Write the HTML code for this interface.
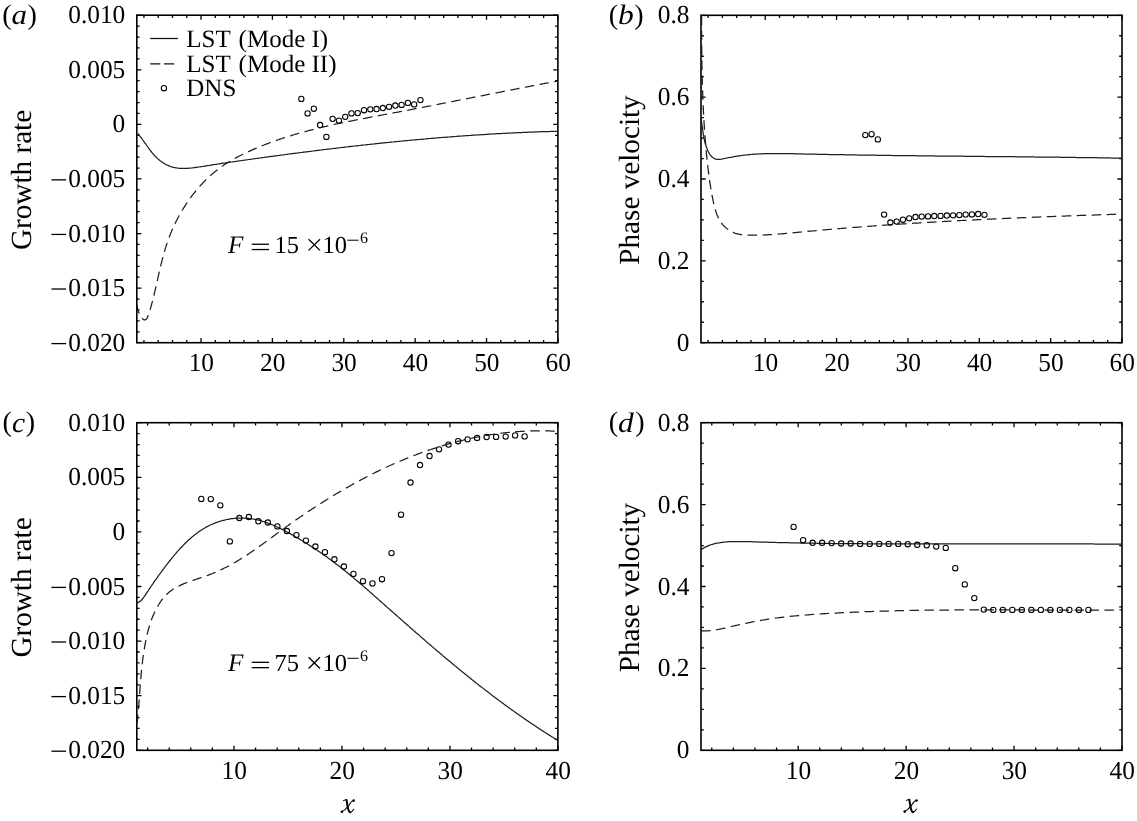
<!DOCTYPE html><html><head><meta charset="utf-8"><style>html,body{margin:0;padding:0;background:#fff;width:1137px;height:821px;overflow:hidden}svg{display:block}text{font-family:"Liberation Serif",serif;text-rendering:geometricPrecision}svg{will-change:transform}</style></head><body><svg width="1137" height="821" viewBox="0 0 1137 821" font-family="Liberation Serif">
<rect width="100%" height="100%" fill="#fff"/>
<path d="M143.94 342.7V339.9M143.94 15.2V18M158.21 342.7V339.9M158.21 15.2V18M172.49 342.7V339.9M172.49 15.2V18M186.76 342.7V339.9M186.76 15.2V18M201.04 342.7V338.1M201.04 15.2V19.8M215.31 342.7V339.9M215.31 15.2V18M229.58 342.7V339.9M229.58 15.2V18M243.86 342.7V339.9M243.86 15.2V18M258.13 342.7V339.9M258.13 15.2V18M272.41 342.7V338.1M272.41 15.2V19.8M286.68 342.7V339.9M286.68 15.2V18M300.96 342.7V339.9M300.96 15.2V18M315.23 342.7V339.9M315.23 15.2V18M329.51 342.7V339.9M329.51 15.2V18M343.78 342.7V338.1M343.78 15.2V19.8M358.06 342.7V339.9M358.06 15.2V18M372.33 342.7V339.9M372.33 15.2V18M386.61 342.7V339.9M386.61 15.2V18M400.88 342.7V339.9M400.88 15.2V18M415.15 342.7V338.1M415.15 15.2V19.8M429.43 342.7V339.9M429.43 15.2V18M443.7 342.7V339.9M443.7 15.2V18M457.98 342.7V339.9M457.98 15.2V18M472.25 342.7V339.9M472.25 15.2V18M486.53 342.7V338.1M486.53 15.2V19.8M500.8 342.7V339.9M500.8 15.2V18M515.08 342.7V339.9M515.08 15.2V18M529.35 342.7V339.9M529.35 15.2V18M543.63 342.7V339.9M543.63 15.2V18M557.9 342.7V338.1M557.9 15.2V19.8M136.8 342.7H141.4M557.9 342.7H553.3M136.8 331.78H139.6M557.9 331.78H555.1M136.8 320.87H139.6M557.9 320.87H555.1M136.8 309.95H139.6M557.9 309.95H555.1M136.8 299.03H139.6M557.9 299.03H555.1M136.8 288.12H141.4M557.9 288.12H553.3M136.8 277.2H139.6M557.9 277.2H555.1M136.8 266.28H139.6M557.9 266.28H555.1M136.8 255.37H139.6M557.9 255.37H555.1M136.8 244.45H139.6M557.9 244.45H555.1M136.8 233.53H141.4M557.9 233.53H553.3M136.8 222.62H139.6M557.9 222.62H555.1M136.8 211.7H139.6M557.9 211.7H555.1M136.8 200.78H139.6M557.9 200.78H555.1M136.8 189.87H139.6M557.9 189.87H555.1M136.8 178.95H141.4M557.9 178.95H553.3M136.8 168.03H139.6M557.9 168.03H555.1M136.8 157.12H139.6M557.9 157.12H555.1M136.8 146.2H139.6M557.9 146.2H555.1M136.8 135.28H139.6M557.9 135.28H555.1M136.8 124.37H141.4M557.9 124.37H553.3M136.8 113.45H139.6M557.9 113.45H555.1M136.8 102.53H139.6M557.9 102.53H555.1M136.8 91.62H139.6M557.9 91.62H555.1M136.8 80.7H139.6M557.9 80.7H555.1M136.8 69.78H141.4M557.9 69.78H553.3M136.8 58.87H139.6M557.9 58.87H555.1M136.8 47.95H139.6M557.9 47.95H555.1M136.8 37.03H139.6M557.9 37.03H555.1M136.8 26.12H139.6M557.9 26.12H555.1M136.8 15.2H141.4M557.9 15.2H553.3" stroke="#000" stroke-width="1.3" fill="none"/>
<rect x="136.8" y="15.2" width="421.1" height="327.5" fill="none" stroke="#000" stroke-width="1.6"/>
<path d="M708.14 342.7V339.9M708.14 15.3V18.1M722.41 342.7V339.9M722.41 15.3V18.1M736.68 342.7V339.9M736.68 15.3V18.1M750.95 342.7V339.9M750.95 15.3V18.1M765.22 342.7V338.1M765.22 15.3V19.9M779.49 342.7V339.9M779.49 15.3V18.1M793.76 342.7V339.9M793.76 15.3V18.1M808.03 342.7V339.9M808.03 15.3V18.1M822.31 342.7V339.9M822.31 15.3V18.1M836.58 342.7V338.1M836.58 15.3V19.9M850.85 342.7V339.9M850.85 15.3V18.1M865.12 342.7V339.9M865.12 15.3V18.1M879.39 342.7V339.9M879.39 15.3V18.1M893.66 342.7V339.9M893.66 15.3V18.1M907.93 342.7V338.1M907.93 15.3V19.9M922.2 342.7V339.9M922.2 15.3V18.1M936.47 342.7V339.9M936.47 15.3V18.1M950.75 342.7V339.9M950.75 15.3V18.1M965.02 342.7V339.9M965.02 15.3V18.1M979.29 342.7V338.1M979.29 15.3V19.9M993.56 342.7V339.9M993.56 15.3V18.1M1007.83 342.7V339.9M1007.83 15.3V18.1M1022.1 342.7V339.9M1022.1 15.3V18.1M1036.37 342.7V339.9M1036.37 15.3V18.1M1050.64 342.7V338.1M1050.64 15.3V19.9M1064.92 342.7V339.9M1064.92 15.3V18.1M1079.19 342.7V339.9M1079.19 15.3V18.1M1093.46 342.7V339.9M1093.46 15.3V18.1M1107.73 342.7V339.9M1107.73 15.3V18.1M1122 342.7V338.1M1122 15.3V19.9M701 342.7H705.6M1122 342.7H1117.4M701 322.24H703.8M1122 322.24H1119.2M701 301.77H703.8M1122 301.77H1119.2M701 281.31H703.8M1122 281.31H1119.2M701 260.85H705.6M1122 260.85H1117.4M701 240.39H703.8M1122 240.39H1119.2M701 219.92H703.8M1122 219.92H1119.2M701 199.46H703.8M1122 199.46H1119.2M701 179H705.6M1122 179H1117.4M701 158.54H703.8M1122 158.54H1119.2M701 138.07H703.8M1122 138.07H1119.2M701 117.61H703.8M1122 117.61H1119.2M701 97.15H705.6M1122 97.15H1117.4M701 76.69H703.8M1122 76.69H1119.2M701 56.23H703.8M1122 56.23H1119.2M701 35.76H703.8M1122 35.76H1119.2M701 15.3H705.6M1122 15.3H1117.4" stroke="#000" stroke-width="1.3" fill="none"/>
<rect x="701" y="15.3" width="421" height="327.4" fill="none" stroke="#000" stroke-width="1.6"/>
<path d="M147.6 750.3V747.5M147.6 422.7V425.5M169.19 750.3V747.5M169.19 422.7V425.5M190.79 750.3V747.5M190.79 422.7V425.5M212.38 750.3V747.5M212.38 422.7V425.5M233.98 750.3V745.7M233.98 422.7V427.3M255.57 750.3V747.5M255.57 422.7V425.5M277.17 750.3V747.5M277.17 422.7V425.5M298.76 750.3V747.5M298.76 422.7V425.5M320.36 750.3V747.5M320.36 422.7V425.5M341.95 750.3V745.7M341.95 422.7V427.3M363.55 750.3V747.5M363.55 422.7V425.5M385.14 750.3V747.5M385.14 422.7V425.5M406.74 750.3V747.5M406.74 422.7V425.5M428.33 750.3V747.5M428.33 422.7V425.5M449.93 750.3V745.7M449.93 422.7V427.3M471.52 750.3V747.5M471.52 422.7V425.5M493.12 750.3V747.5M493.12 422.7V425.5M514.71 750.3V747.5M514.71 422.7V425.5M536.31 750.3V747.5M536.31 422.7V425.5M557.9 750.3V745.7M557.9 422.7V427.3M136.8 750.3H141.4M557.9 750.3H553.3M136.8 739.38H139.6M557.9 739.38H555.1M136.8 728.46H139.6M557.9 728.46H555.1M136.8 717.54H139.6M557.9 717.54H555.1M136.8 706.62H139.6M557.9 706.62H555.1M136.8 695.7H141.4M557.9 695.7H553.3M136.8 684.78H139.6M557.9 684.78H555.1M136.8 673.86H139.6M557.9 673.86H555.1M136.8 662.94H139.6M557.9 662.94H555.1M136.8 652.02H139.6M557.9 652.02H555.1M136.8 641.1H141.4M557.9 641.1H553.3M136.8 630.18H139.6M557.9 630.18H555.1M136.8 619.26H139.6M557.9 619.26H555.1M136.8 608.34H139.6M557.9 608.34H555.1M136.8 597.42H139.6M557.9 597.42H555.1M136.8 586.5H141.4M557.9 586.5H553.3M136.8 575.58H139.6M557.9 575.58H555.1M136.8 564.66H139.6M557.9 564.66H555.1M136.8 553.74H139.6M557.9 553.74H555.1M136.8 542.82H139.6M557.9 542.82H555.1M136.8 531.9H141.4M557.9 531.9H553.3M136.8 520.98H139.6M557.9 520.98H555.1M136.8 510.06H139.6M557.9 510.06H555.1M136.8 499.14H139.6M557.9 499.14H555.1M136.8 488.22H139.6M557.9 488.22H555.1M136.8 477.3H141.4M557.9 477.3H553.3M136.8 466.38H139.6M557.9 466.38H555.1M136.8 455.46H139.6M557.9 455.46H555.1M136.8 444.54H139.6M557.9 444.54H555.1M136.8 433.62H139.6M557.9 433.62H555.1M136.8 422.7H141.4M557.9 422.7H553.3" stroke="#000" stroke-width="1.3" fill="none"/>
<rect x="136.8" y="422.7" width="421.1" height="327.6" fill="none" stroke="#000" stroke-width="1.6"/>
<path d="M711.79 750.3V747.5M711.79 422.7V425.5M733.38 750.3V747.5M733.38 422.7V425.5M754.97 750.3V747.5M754.97 422.7V425.5M776.56 750.3V747.5M776.56 422.7V425.5M798.15 750.3V745.7M798.15 422.7V427.3M819.74 750.3V747.5M819.74 422.7V425.5M841.33 750.3V747.5M841.33 422.7V425.5M862.92 750.3V747.5M862.92 422.7V425.5M884.51 750.3V747.5M884.51 422.7V425.5M906.1 750.3V745.7M906.1 422.7V427.3M927.69 750.3V747.5M927.69 422.7V425.5M949.28 750.3V747.5M949.28 422.7V425.5M970.87 750.3V747.5M970.87 422.7V425.5M992.46 750.3V747.5M992.46 422.7V425.5M1014.05 750.3V745.7M1014.05 422.7V427.3M1035.64 750.3V747.5M1035.64 422.7V425.5M1057.23 750.3V747.5M1057.23 422.7V425.5M1078.82 750.3V747.5M1078.82 422.7V425.5M1100.41 750.3V747.5M1100.41 422.7V425.5M1122 750.3V745.7M1122 422.7V427.3M701 750.3H705.6M1122 750.3H1117.4M701 729.82H703.8M1122 729.82H1119.2M701 709.35H703.8M1122 709.35H1119.2M701 688.88H703.8M1122 688.88H1119.2M701 668.4H705.6M1122 668.4H1117.4M701 647.92H703.8M1122 647.92H1119.2M701 627.45H703.8M1122 627.45H1119.2M701 606.97H703.8M1122 606.97H1119.2M701 586.5H705.6M1122 586.5H1117.4M701 566.02H703.8M1122 566.02H1119.2M701 545.55H703.8M1122 545.55H1119.2M701 525.08H703.8M1122 525.08H1119.2M701 504.6H705.6M1122 504.6H1117.4M701 484.12H703.8M1122 484.12H1119.2M701 463.65H703.8M1122 463.65H1119.2M701 443.18H703.8M1122 443.18H1119.2M701 422.7H705.6M1122 422.7H1117.4" stroke="#000" stroke-width="1.3" fill="none"/>
<rect x="701" y="422.7" width="421" height="327.6" fill="none" stroke="#000" stroke-width="1.6"/>
<text transform="translate(125.3 23.2) scale(0.976 1)" font-size="26" text-anchor="end">0.010</text>
<text transform="translate(125.3 77.78) scale(0.976 1)" font-size="26" text-anchor="end">0.005</text>
<text transform="translate(125.3 132.37) scale(0.976 1)" font-size="26" text-anchor="end">0</text>
<text transform="translate(125.3 186.95) scale(0.976 1)" font-size="26" text-anchor="end">0.005</text>
<rect x="51.47" y="179.2" width="14.6" height="1.3" fill="#000"/>
<text transform="translate(125.3 241.53) scale(0.976 1)" font-size="26" text-anchor="end">0.010</text>
<rect x="51.47" y="233.78" width="14.6" height="1.3" fill="#000"/>
<text transform="translate(125.3 296.12) scale(0.976 1)" font-size="26" text-anchor="end">0.015</text>
<rect x="51.47" y="288.37" width="14.6" height="1.3" fill="#000"/>
<text transform="translate(125.3 350.7) scale(0.976 1)" font-size="26" text-anchor="end">0.020</text>
<rect x="51.47" y="342.95" width="14.6" height="1.3" fill="#000"/>
<text transform="translate(125.3 430.7) scale(0.976 1)" font-size="26" text-anchor="end">0.010</text>
<text transform="translate(125.3 485.3) scale(0.976 1)" font-size="26" text-anchor="end">0.005</text>
<text transform="translate(125.3 539.9) scale(0.976 1)" font-size="26" text-anchor="end">0</text>
<text transform="translate(125.3 594.5) scale(0.976 1)" font-size="26" text-anchor="end">0.005</text>
<rect x="51.47" y="586.75" width="14.6" height="1.3" fill="#000"/>
<text transform="translate(125.3 649.1) scale(0.976 1)" font-size="26" text-anchor="end">0.010</text>
<rect x="51.47" y="641.35" width="14.6" height="1.3" fill="#000"/>
<text transform="translate(125.3 703.7) scale(0.976 1)" font-size="26" text-anchor="end">0.015</text>
<rect x="51.47" y="695.95" width="14.6" height="1.3" fill="#000"/>
<text transform="translate(125.3 758.3) scale(0.976 1)" font-size="26" text-anchor="end">0.020</text>
<rect x="51.47" y="750.55" width="14.6" height="1.3" fill="#000"/>
<text transform="translate(689.5 23.3) scale(0.976 1)" font-size="26" text-anchor="end">0.8</text>
<text transform="translate(689.5 105.15) scale(0.976 1)" font-size="26" text-anchor="end">0.6</text>
<text transform="translate(689.5 187) scale(0.976 1)" font-size="26" text-anchor="end">0.4</text>
<text transform="translate(689.5 268.85) scale(0.976 1)" font-size="26" text-anchor="end">0.2</text>
<text transform="translate(689.5 350.7) scale(0.976 1)" font-size="26" text-anchor="end">0</text>
<text transform="translate(689.5 430.7) scale(0.976 1)" font-size="26" text-anchor="end">0.8</text>
<text transform="translate(689.5 512.6) scale(0.976 1)" font-size="26" text-anchor="end">0.6</text>
<text transform="translate(689.5 594.5) scale(0.976 1)" font-size="26" text-anchor="end">0.4</text>
<text transform="translate(689.5 676.4) scale(0.976 1)" font-size="26" text-anchor="end">0.2</text>
<text transform="translate(689.5 758.3) scale(0.976 1)" font-size="26" text-anchor="end">0</text>
<text transform="translate(201.34 371.1) scale(0.976 1)" font-size="26" text-anchor="middle">10</text>
<text transform="translate(272.71 371.1) scale(0.976 1)" font-size="26" text-anchor="middle">20</text>
<text transform="translate(344.08 371.1) scale(0.976 1)" font-size="26" text-anchor="middle">30</text>
<text transform="translate(415.45 371.1) scale(0.976 1)" font-size="26" text-anchor="middle">40</text>
<text transform="translate(486.83 371.1) scale(0.976 1)" font-size="26" text-anchor="middle">50</text>
<text transform="translate(558.2 371.1) scale(0.976 1)" font-size="26" text-anchor="middle">60</text>
<text transform="translate(765.52 371.1) scale(0.976 1)" font-size="26" text-anchor="middle">10</text>
<text transform="translate(836.88 371.1) scale(0.976 1)" font-size="26" text-anchor="middle">20</text>
<text transform="translate(908.23 371.1) scale(0.976 1)" font-size="26" text-anchor="middle">30</text>
<text transform="translate(979.59 371.1) scale(0.976 1)" font-size="26" text-anchor="middle">40</text>
<text transform="translate(1050.94 371.1) scale(0.976 1)" font-size="26" text-anchor="middle">50</text>
<text transform="translate(1122.3 371.1) scale(0.976 1)" font-size="26" text-anchor="middle">60</text>
<text transform="translate(234.28 778.7) scale(0.976 1)" font-size="26" text-anchor="middle">10</text>
<text transform="translate(342.25 778.7) scale(0.976 1)" font-size="26" text-anchor="middle">20</text>
<text transform="translate(450.23 778.7) scale(0.976 1)" font-size="26" text-anchor="middle">30</text>
<text transform="translate(558.2 778.7) scale(0.976 1)" font-size="26" text-anchor="middle">40</text>
<text transform="translate(798.45 778.7) scale(0.976 1)" font-size="26" text-anchor="middle">10</text>
<text transform="translate(906.4 778.7) scale(0.976 1)" font-size="26" text-anchor="middle">20</text>
<text transform="translate(1014.35 778.7) scale(0.976 1)" font-size="26" text-anchor="middle">30</text>
<text transform="translate(1122.3 778.7) scale(0.976 1)" font-size="26" text-anchor="middle">40</text>
<text transform="translate(31.2 179.95) rotate(-90)" font-size="29.2" text-anchor="middle">Growth rate</text>
<text transform="translate(31.2 587.5) rotate(-90)" font-size="29.2" text-anchor="middle">Growth rate</text>
<text transform="translate(638.9 180) rotate(-90)" font-size="29.2" text-anchor="middle">Phase velocity</text>
<text transform="translate(638.9 587.5) rotate(-90)" font-size="29.2" text-anchor="middle">Phase velocity</text>
<g transform="translate(340.6 812.9)" fill="none" stroke="#000" stroke-linecap="round"><path d="M1.1 -1.2C2.3 -1.6 3.2 -2.4 4.1 -3.1S6.2 -5.4 7.2 -6.2S8.6 -8.4 9.4 -9.3S10.5 -11 11.2 -11.5S12.6 -12.3 13.3 -12.3" stroke-width="1.05"/><path d="M5.9 -13C6.3 -11 6.9 -6 7.6 -3.8C8.1 -2 8.7 -0.6 9.6 -0.6" stroke-width="2.0"/><path d="M9.6 -0.6C11 -0.6 12.2 -2 13.1 -3.6" stroke-width="1.05"/><path d="M2.8 -12.3C3.8 -12.9 5 -13.2 6.1 -13.1" stroke-width="1.0"/><circle cx="1.3" cy="-1.1" r="1.3" fill="#000" stroke="none"/><circle cx="13.1" cy="-12.3" r="1.25" fill="#000" stroke="none"/></g>
<g transform="translate(903.4 812.7)" fill="none" stroke="#000" stroke-linecap="round"><path d="M1.1 -1.2C2.3 -1.6 3.2 -2.4 4.1 -3.1S6.2 -5.4 7.2 -6.2S8.6 -8.4 9.4 -9.3S10.5 -11 11.2 -11.5S12.6 -12.3 13.3 -12.3" stroke-width="1.05"/><path d="M5.9 -13C6.3 -11 6.9 -6 7.6 -3.8C8.1 -2 8.7 -0.6 9.6 -0.6" stroke-width="2.0"/><path d="M9.6 -0.6C11 -0.6 12.2 -2 13.1 -3.6" stroke-width="1.05"/><path d="M2.8 -12.3C3.8 -12.9 5 -13.2 6.1 -13.1" stroke-width="1.0"/><circle cx="1.3" cy="-1.1" r="1.3" fill="#000" stroke="none"/><circle cx="13.1" cy="-12.3" r="1.25" fill="#000" stroke="none"/></g>
<text x="2.2" y="23.9" font-size="28.2" text-anchor="start">(</text>
<text transform="translate(11.48 24.4) scale(1.1 1)" font-size="28.2" text-anchor="start" font-style="italic">a</text>
<text x="27.5" y="23.9" font-size="28.2" text-anchor="start">)</text>
<text x="608.8" y="23.9" font-size="28.2" text-anchor="start">(</text>
<text transform="translate(618.1 24.4) scale(1.12 1)" font-size="28.2" text-anchor="start" font-style="italic">b</text>
<text x="634.2" y="23.9" font-size="28.2" text-anchor="start">)</text>
<text x="2.4" y="431.4" font-size="28.2" text-anchor="start">(</text>
<text transform="translate(12 432.1) scale(1.05 1)" font-size="28.2" text-anchor="start" font-style="italic">c</text>
<text x="25.8" y="431.4" font-size="28.2" text-anchor="start">)</text>
<text x="608.8" y="431.4" font-size="28.2" text-anchor="start">(</text>
<text transform="translate(618.1 432.1) scale(1.11 1)" font-size="28.2" text-anchor="start" font-style="italic">d</text>
<text x="635.3" y="431.4" font-size="28.2" text-anchor="start">)</text>
<path d="M150.2 38.5H177.9" stroke="#111" stroke-width="1.25"/>
<path d="M150.2 63.8H160.3M164 63.8H174.2" stroke="#111" stroke-width="1.25"/>
<g fill="none" stroke="#000" stroke-width="1.05"><circle cx="163.9" cy="88.2" r="2.65"/></g>
<text x="186.3" y="46.8" font-size="25" text-anchor="start">LST</text>
<text x="238.6" y="46.8" font-size="25" text-anchor="start">(Mode I)</text>
<text x="186.3" y="72.4" font-size="25" text-anchor="start">LST</text>
<text x="238.6" y="72.4" font-size="25" text-anchor="start">(Mode II)</text>
<text x="186.3" y="95.7" font-size="25" text-anchor="start">DNS</text>
<text x="227.9" y="253.1" font-size="25.2" text-anchor="start" font-style="italic">F</text>
<rect x="251.7" y="243.6" width="17.3" height="1.3"/>
<rect x="251.7" y="248.9" width="17.3" height="1.3"/>
<text x="299.1" y="253.1" font-size="24.5" text-anchor="end">15</text>
<path d="M308.6 239.2L320 250.4M320 239.2L308.6 250.4" stroke="#000" stroke-width="1.3"/>
<text x="322.6" y="253.1" font-size="24.5" text-anchor="start">10</text>
<rect x="347.4" y="239.7" width="11.2" height="1.0"/>
<text x="360" y="242.5" font-size="16" text-anchor="start">6</text>
<text x="227.9" y="671.2" font-size="25.2" text-anchor="start" font-style="italic">F</text>
<rect x="251.7" y="661.7" width="17.3" height="1.3"/>
<rect x="251.7" y="667" width="17.3" height="1.3"/>
<text x="299.1" y="671.2" font-size="24.5" text-anchor="end">75</text>
<path d="M308.6 657.3L320 668.5M320 657.3L308.6 668.5" stroke="#000" stroke-width="1.3"/>
<text x="322.6" y="671.2" font-size="24.5" text-anchor="start">10</text>
<rect x="347.4" y="657.8" width="11.2" height="1.0"/>
<text x="360" y="660.6" font-size="16" text-anchor="start">6</text>
<path d="M137.7 133.5 138.5 134.3 139.2 135.2 139.9 136.1 140.7 137.1 141.4 138.0 142.1 139.0 142.8 140.0 143.5 141.0 144.2 142.0 144.9 143.0 145.7 144.0 146.4 145.0 147.1 146.0 147.8 147.0 148.5 148.0 149.2 149.0 150.0 150.0 150.7 151.0 151.5 152.0 152.2 152.9 153.0 153.8 153.8 154.7 154.6 155.6 155.4 156.5 156.3 157.3 157.1 158.1 158.0 158.9 158.9 159.7 159.7 160.4 160.7 161.1 161.6 161.8 162.5 162.4 163.5 163.0 164.4 163.6 165.4 164.2 166.4 164.7 167.4 165.2 168.4 165.6 169.5 166.1 170.5 166.5 171.6 166.8 172.6 167.1 173.7 167.4 174.8 167.6 176.0 167.8 177.1 168.0 178.2 168.2 179.4 168.3 180.5 168.3 181.7 168.4 182.9 168.4 184.1 168.4 185.3 168.4 186.5 168.4 187.7 168.3 188.9 168.2 190.1 168.1 191.4 168.0 192.6 167.9 193.8 167.7 195.0 167.6 196.3 167.4 197.5 167.2 198.8 167.0 200.0 166.9 201.2 166.7 202.5 166.5 203.7 166.3 204.9 166.1 206.2 165.9 207.4 165.7 208.6 165.5 209.8 165.3 211.0 165.1 212.3 164.9 213.5 164.7 214.7 164.5 215.9 164.3 217.1 164.1 218.3 164.0 219.5 163.8 220.6 163.6 221.8 163.4 223.0 163.2 224.2 163.1 225.4 162.9 226.6 162.7 227.8 162.5 228.9 162.4 230.1 162.2 231.3 162.0 232.5 161.9 233.7 161.7 234.8 161.5 236.0 161.4 237.2 161.2 238.4 161.0 239.5 160.8 240.7 160.7 241.9 160.5 243.1 160.3 244.3 160.2 245.4 160.0 246.6 159.8 247.8 159.7 249.0 159.5 250.2 159.4 251.3 159.2 252.5 159.0 253.7 158.9 254.9 158.7 256.1 158.5 257.2 158.4 258.4 158.2 259.6 158.0 260.8 157.9 262.0 157.7 263.2 157.5 264.3 157.4 265.5 157.2 266.7 157.1 267.9 156.9 269.1 156.7 270.3 156.6 271.4 156.4 272.6 156.3 273.8 156.1 275.0 155.9 276.2 155.8 277.4 155.6 278.5 155.5 279.7 155.3 280.9 155.1 282.1 155.0 283.3 154.8 284.5 154.7 285.6 154.5 286.8 154.4 288.0 154.2 289.2 154.0 290.4 153.9 291.6 153.7 292.8 153.6 293.9 153.4 295.1 153.3 296.3 153.1 297.5 153.0 298.7 152.8 299.9 152.7 301.1 152.5 302.2 152.4 303.4 152.2 304.6 152.1 305.8 151.9 307.0 151.8 308.2 151.6 309.4 151.5 310.6 151.3 311.7 151.2 312.9 151.0 314.1 150.9 315.3 150.7 316.5 150.6 317.7 150.4 318.9 150.3 320.1 150.1 321.3 150.0 322.4 149.8 323.6 149.7 324.8 149.5 326.0 149.4 327.2 149.2 328.4 149.1 329.6 149.0 330.8 148.8 332.0 148.7 333.2 148.5 334.3 148.4 335.5 148.3 336.7 148.1 337.9 148.0 339.1 147.8 340.3 147.7 341.5 147.5 342.7 147.4 343.9 147.3 345.1 147.1 346.3 147.0 347.4 146.9 348.6 146.7 349.8 146.6 351.0 146.4 352.2 146.3 353.4 146.2 354.6 146.0 355.8 145.9 357.0 145.8 358.2 145.6 359.4 145.5 360.6 145.4 361.7 145.2 362.9 145.1 364.1 145.0 365.3 144.9 366.5 144.7 367.7 144.6 368.9 144.5 370.1 144.3 371.3 144.2 372.5 144.1 373.7 144.0 374.9 143.8 376.1 143.7 377.3 143.6 378.4 143.4 379.6 143.3 380.8 143.2 382.0 143.1 383.2 142.9 384.4 142.8 385.6 142.7 386.8 142.6 388.0 142.5 389.2 142.3 390.4 142.2 391.6 142.1 392.8 142.0 394.0 141.9 395.2 141.7 396.4 141.6 397.6 141.5 398.7 141.4 399.9 141.3 401.1 141.2 402.3 141.0 403.5 140.9 404.7 140.8 405.9 140.7 407.1 140.6 408.3 140.5 409.5 140.4 410.7 140.2 411.9 140.1 413.1 140.0 414.3 139.9 415.5 139.8 416.7 139.7 417.9 139.6 419.1 139.5 420.3 139.4 421.5 139.3 422.7 139.2 423.8 139.1 425.0 139.0 426.2 138.8 427.4 138.7 428.6 138.6 429.8 138.5 431.0 138.4 432.2 138.3 433.4 138.2 434.6 138.1 435.8 138.0 437.0 137.9 438.2 137.8 439.4 137.7 440.6 137.6 441.8 137.5 443.0 137.4 444.2 137.3 445.4 137.3 446.6 137.2 447.8 137.1 449.0 137.0 450.2 136.9 451.4 136.8 452.6 136.7 453.8 136.6 455.0 136.5 456.1 136.4 457.3 136.3 458.5 136.2 459.7 136.2 460.9 136.1 462.1 136.0 463.3 135.9 464.5 135.8 465.7 135.7 466.9 135.6 468.1 135.6 469.3 135.5 470.5 135.4 471.7 135.3 472.9 135.2 474.1 135.1 475.3 135.1 476.5 135.0 477.7 134.9 478.9 134.8 480.1 134.8 481.3 134.7 482.5 134.6 483.7 134.5 484.9 134.5 486.1 134.4 487.3 134.3 488.5 134.2 489.7 134.2 490.9 134.1 492.1 134.0 493.3 133.9 494.4 133.9 495.6 133.8 496.8 133.7 498.0 133.7 499.2 133.6 500.4 133.5 501.6 133.5 502.8 133.4 504.0 133.4 505.2 133.3 506.4 133.2 507.6 133.2 508.8 133.1 510.0 133.0 511.2 133.0 512.4 132.9 513.6 132.9 514.8 132.8 516.0 132.8 517.2 132.7 518.4 132.6 519.6 132.6 520.8 132.5 522.0 132.5 523.2 132.4 524.4 132.4 525.6 132.3 526.8 132.3 528.0 132.2 529.2 132.2 530.3 132.1 531.5 132.1 532.7 132.0 533.9 132.0 535.1 131.9 536.3 131.9 537.5 131.9 538.7 131.8 539.9 131.8 541.1 131.7 542.3 131.7 543.5 131.7 544.7 131.6 545.9 131.6 547.1 131.5 548.3 131.5 549.5 131.5 550.7 131.4 551.9 131.4 553.1 131.4 554.3 131.3 555.5 131.3 556.7 131.3 557.9 131.2" fill="none" stroke="#1e1e1e" stroke-width="1.25" stroke-linejoin="round"/>
<path d="M137.1 304.4 137.1 305.5 137.2 306.7 137.4 308.0 137.7 309.3 138.1 310.7 138.6 312.1 139.2 313.5 139.8 314.8 140.4 316.0 141.1 317.1 141.8 318.1 142.5 318.8 143.2 319.4 143.9 319.8 144.6 319.9 145.2 319.9 145.8 319.6 146.3 319.1 146.8 318.4 147.3 317.6 147.8 316.6 148.2 315.6 148.6 314.5 149.0 313.3 149.4 312.1 149.8 310.9 150.1 309.6 150.5 308.4 150.8 307.2 151.2 306.0 151.5 304.8 151.8 303.6 152.1 302.4 152.5 301.2 152.8 300.0 153.1 298.8 153.4 297.6 153.7 296.4 154.0 295.2 154.3 294.0 154.5 292.8 154.8 291.6 155.1 290.4 155.4 289.2 155.7 288.0 155.9 286.8 156.2 285.6 156.5 284.4 156.7 283.3 157.0 282.1 157.3 280.9 157.5 279.7 157.8 278.6 158.1 277.4 158.3 276.2 158.6 275.0 158.8 273.9 159.1 272.7 159.4 271.5 159.6 270.4 159.9 269.2 160.2 268.0 160.4 266.9 160.7 265.7 161.0 264.6 161.3 263.4 161.6 262.3 161.9 261.1 162.1 259.9 162.4 258.8 162.7 257.7 163.0 256.5 163.3 255.4 163.7 254.2 164.0 253.1 164.3 251.9 164.6 250.8 165.0 249.7 165.3 248.5 165.7 247.4 166.0 246.3 166.4 245.1 166.8 244.0 167.1 242.9 167.5 241.8 167.9 240.6 168.3 239.5 168.7 238.4 169.1 237.3 169.6 236.2 170.0 235.0 170.5 233.9 170.9 232.8 171.4 231.7 171.8 230.6 172.3 229.5 172.8 228.4 173.3 227.3 173.8 226.2 174.3 225.1 174.8 224.0 175.4 222.9 175.9 221.9 176.4 220.8 177.0 219.7 177.5 218.6 178.1 217.6 178.7 216.5 179.2 215.4 179.8 214.4 180.4 213.3 181.0 212.3 181.6 211.2 182.3 210.2 182.9 209.2 183.5 208.1 184.2 207.1 184.8 206.1 185.5 205.1 186.1 204.1 186.8 203.1 187.5 202.1 188.2 201.1 188.8 200.1 189.5 199.1 190.2 198.1 191.0 197.2 191.7 196.2 192.4 195.2 193.1 194.3 193.9 193.3 194.6 192.4 195.4 191.5 196.1 190.5 196.9 189.6 197.7 188.7 198.5 187.8 199.2 186.9 200.0 186.0 200.8 185.1 201.7 184.2 202.5 183.4 203.3 182.5 204.1 181.6 205.0 180.8 205.8 179.9 206.7 179.1 207.5 178.3 208.4 177.5 209.3 176.6 210.2 175.8 211.0 175.0 211.9 174.3 212.8 173.5 213.7 172.7 214.7 171.9 215.6 171.2 216.5 170.5 217.5 169.7 218.4 169.0 219.4 168.3 220.3 167.6 221.3 166.9 222.3 166.2 223.3 165.5 224.2 164.8 225.2 164.2 226.2 163.5 227.3 162.9 228.3 162.2 229.3 161.6 230.3 161.0 231.4 160.4 232.4 159.8 233.5 159.2 234.5 158.6 235.6 158.0 236.6 157.4 237.7 156.9 238.8 156.3 239.8 155.8 240.9 155.2 242.0 154.7 243.1 154.1 244.2 153.6 245.3 153.1 246.3 152.6 247.4 152.1 248.5 151.6 249.6 151.1 250.7 150.6 251.8 150.1 252.9 149.6 254.0 149.1 255.1 148.6 256.3 148.2 257.4 147.7 258.5 147.2 259.6 146.8 260.7 146.3 261.8 145.9 262.9 145.4 264.0 145.0 265.2 144.5 266.3 144.1 267.4 143.7 268.5 143.3 269.6 142.8 270.8 142.4 271.9 142.0 273.0 141.6 274.1 141.2 275.3 140.8 276.4 140.4 277.5 140.0 278.7 139.6 279.8 139.2 280.9 138.8 282.1 138.5 283.2 138.1 284.3 137.7 285.5 137.4 286.6 137.0 287.8 136.6 288.9 136.3 290.0 135.9 291.2 135.6 292.3 135.2 293.5 134.9 294.6 134.5 295.8 134.2 296.9 133.9 298.1 133.5 299.2 133.2 300.4 132.9 301.5 132.5 302.7 132.2 303.8 131.9 305.0 131.6 306.1 131.3 307.3 131.0 308.4 130.7 309.6 130.4 310.8 130.1 311.9 129.8 313.1 129.5 314.2 129.2 315.4 128.9 316.6 128.6 317.7 128.3 318.9 128.0 320.1 127.7 321.2 127.5 322.4 127.2 323.6 126.9 324.7 126.6 325.9 126.4 327.1 126.1 328.2 125.8 329.4 125.5 330.6 125.3 331.7 125.0 332.9 124.8 334.1 124.5 335.3 124.2 336.4 124.0 337.6 123.7 338.8 123.5 339.9 123.2 341.1 123.0 342.3 122.7 343.5 122.5 344.6 122.3 345.8 122.0 347.0 121.8 348.2 121.5 349.4 121.3 350.5 121.1 351.7 120.8 352.9 120.6 354.1 120.3 355.2 120.1 356.4 119.9 357.6 119.7 358.8 119.4 360.0 119.2 361.1 119.0 362.3 118.7 363.5 118.5 364.7 118.3 365.9 118.1 367.0 117.8 368.2 117.6 369.4 117.4 370.6 117.2 371.8 116.9 373.0 116.7 374.1 116.5 375.3 116.3 376.5 116.1 377.7 115.8 378.9 115.6 380.0 115.4 381.2 115.2 382.4 115.0 383.6 114.7 384.8 114.5 386.0 114.3 387.1 114.1 388.3 113.9 389.5 113.6 390.7 113.4 391.9 113.2 393.0 113.0 394.2 112.7 395.4 112.5 396.6 112.3 397.8 112.1 398.9 111.9 400.1 111.6 401.3 111.4 402.5 111.2 403.7 111.0 404.8 110.7 406.0 110.5 407.2 110.3 408.4 110.1 409.6 109.8 410.7 109.6 411.9 109.4 413.1 109.2 414.3 108.9 415.5 108.7 416.6 108.5 417.8 108.3 419.0 108.0 420.2 107.8 421.3 107.6 422.5 107.4 423.7 107.1 424.9 106.9 426.1 106.7 427.2 106.4 428.4 106.2 429.6 106.0 430.8 105.8 431.9 105.5 433.1 105.3 434.3 105.1 435.5 104.8 436.6 104.6 437.8 104.4 439.0 104.1 440.2 103.9 441.4 103.7 442.5 103.5 443.7 103.2 444.9 103.0 446.1 102.8 447.2 102.5 448.4 102.3 449.6 102.1 450.8 101.8 451.9 101.6 453.1 101.4 454.3 101.1 455.5 100.9 456.6 100.7 457.8 100.5 459.0 100.2 460.2 100.0 461.3 99.8 462.5 99.5 463.7 99.3 464.9 99.1 466.0 98.8 467.2 98.6 468.4 98.4 469.6 98.1 470.8 97.9 471.9 97.7 473.1 97.4 474.3 97.2 475.5 97.0 476.6 96.7 477.8 96.5 479.0 96.3 480.2 96.0 481.3 95.8 482.5 95.6 483.7 95.3 484.9 95.1 486.0 94.9 487.2 94.6 488.4 94.4 489.6 94.2 490.7 93.9 491.9 93.7 493.1 93.5 494.3 93.3 495.4 93.0 496.6 92.8 497.8 92.6 499.0 92.3 500.2 92.1 501.3 91.9 502.5 91.6 503.7 91.4 504.9 91.2 506.0 90.9 507.2 90.7 508.4 90.5 509.6 90.3 510.7 90.0 511.9 89.8 513.1 89.6 514.3 89.3 515.5 89.1 516.6 88.9 517.8 88.6 519.0 88.4 520.2 88.2 521.3 88.0 522.5 87.7 523.7 87.5 524.9 87.3 526.1 87.0 527.2 86.8 528.4 86.6 529.6 86.4 530.8 86.1 532.0 85.9 533.1 85.7 534.3 85.5 535.5 85.2 536.7 85.0 537.9 84.8 539.0 84.6 540.2 84.3 541.4 84.1 542.6 83.9 543.8 83.7 544.9 83.4 546.1 83.2 547.3 83.0 548.5 82.8 549.7 82.5 550.9 82.3 552.0 82.1 553.2 81.9 554.4 81.7 555.6 81.4 556.8 81.2 557.9 81.0" fill="none" stroke="#1e1e1e" stroke-width="1.25" stroke-dasharray="9.5 5.5" stroke-linejoin="round"/>
<path d="M701.0 119.0 701.2 120.2 701.4 121.4 701.6 122.6 701.8 123.8 702.0 125.0 702.1 126.2 702.3 127.3 702.5 128.5 702.6 129.7 702.8 130.9 703.0 132.0 703.1 133.2 703.3 134.4 703.5 135.5 703.7 136.7 703.9 137.8 704.2 139.0 704.4 140.2 704.7 141.3 705.0 142.5 705.3 143.7 705.7 144.8 706.0 146.0 706.5 147.2 706.9 148.3 707.4 149.5 707.9 150.7 708.4 151.8 709.0 152.9 709.6 154.0 710.3 155.0 711.1 155.9 711.8 156.8 712.7 157.5 713.6 158.1 714.5 158.7 715.6 159.0 716.6 159.3 717.7 159.4 718.9 159.4 720.1 159.3 721.2 159.2 722.4 159.0 723.6 158.7 724.8 158.5 726.0 158.2 727.2 158.0 728.4 157.7 729.6 157.5 730.8 157.3 732.0 157.1 733.2 156.8 734.4 156.6 735.5 156.4 736.7 156.2 737.9 156.1 739.1 155.9 740.3 155.7 741.4 155.5 742.6 155.4 743.8 155.2 745.0 155.1 746.2 155.0 747.4 154.8 748.6 154.7 749.7 154.6 750.9 154.5 752.1 154.4 753.3 154.3 754.5 154.2 755.7 154.1 756.9 154.1 758.1 154.0 759.2 153.9 760.4 153.9 761.6 153.8 762.8 153.8 764.0 153.7 765.2 153.7 766.4 153.6 767.6 153.6 768.8 153.6 770.0 153.6 771.2 153.5 772.4 153.5 773.6 153.5 774.8 153.5 776.0 153.5 777.2 153.5 778.4 153.5 779.6 153.5 780.7 153.5 781.9 153.5 783.1 153.6 784.3 153.6 785.5 153.6 786.7 153.6 787.9 153.6 789.1 153.6 790.3 153.7 791.5 153.7 792.7 153.7 793.9 153.7 795.1 153.8 796.3 153.8 797.5 153.8 798.7 153.8 799.9 153.9 801.1 153.9 802.3 153.9 803.5 154.0 804.7 154.0 805.9 154.0 807.1 154.0 808.3 154.1 809.5 154.1 810.7 154.1 811.9 154.1 813.1 154.2 814.3 154.2 815.5 154.2 816.7 154.2 817.9 154.3 819.1 154.3 820.3 154.3 821.5 154.3 822.7 154.3 823.9 154.4 825.1 154.4 826.3 154.4 827.5 154.4 828.7 154.5 829.9 154.5 831.1 154.5 832.3 154.5 833.5 154.6 834.7 154.6 835.9 154.6 837.1 154.6 838.3 154.6 839.5 154.7 840.7 154.7 841.9 154.7 843.1 154.7 844.3 154.7 845.5 154.8 846.7 154.8 847.9 154.8 849.1 154.8 850.3 154.8 851.4 154.9 852.6 154.9 853.8 154.9 855.0 154.9 856.2 154.9 857.4 155.0 858.6 155.0 859.8 155.0 861.0 155.0 862.2 155.0 863.4 155.1 864.6 155.1 865.8 155.1 867.0 155.1 868.2 155.1 869.4 155.1 870.6 155.2 871.8 155.2 873.0 155.2 874.2 155.2 875.4 155.2 876.6 155.2 877.8 155.3 879.0 155.3 880.2 155.3 881.4 155.3 882.6 155.3 883.8 155.3 885.0 155.4 886.2 155.4 887.4 155.4 888.6 155.4 889.8 155.4 891.0 155.4 892.2 155.5 893.3 155.5 894.5 155.5 895.7 155.5 896.9 155.5 898.1 155.5 899.3 155.5 900.5 155.6 901.7 155.6 902.9 155.6 904.1 155.6 905.3 155.6 906.5 155.6 907.7 155.6 908.9 155.7 910.1 155.7 911.3 155.7 912.5 155.7 913.7 155.7 914.9 155.7 916.1 155.7 917.3 155.8 918.5 155.8 919.7 155.8 920.9 155.8 922.1 155.8 923.3 155.8 924.5 155.8 925.7 155.8 926.8 155.9 928.0 155.9 929.2 155.9 930.4 155.9 931.6 155.9 932.8 155.9 934.0 155.9 935.2 156.0 936.4 156.0 937.6 156.0 938.8 156.0 940.0 156.0 941.2 156.0 942.4 156.0 943.6 156.0 944.8 156.1 946.0 156.1 947.2 156.1 948.4 156.1 949.6 156.1 950.8 156.1 952.0 156.1 953.2 156.1 954.4 156.2 955.6 156.2 956.8 156.2 958.0 156.2 959.1 156.2 960.3 156.2 961.5 156.2 962.7 156.2 963.9 156.2 965.1 156.3 966.3 156.3 967.5 156.3 968.7 156.3 969.9 156.3 971.1 156.3 972.3 156.3 973.5 156.3 974.7 156.4 975.9 156.4 977.1 156.4 978.3 156.4 979.5 156.4 980.7 156.4 981.9 156.4 983.1 156.4 984.3 156.4 985.5 156.5 986.7 156.5 987.9 156.5 989.0 156.5 990.2 156.5 991.4 156.5 992.6 156.5 993.8 156.5 995.0 156.6 996.2 156.6 997.4 156.6 998.6 156.6 999.8 156.6 1001.0 156.6 1002.2 156.6 1003.4 156.6 1004.6 156.6 1005.8 156.7 1007.0 156.7 1008.2 156.7 1009.4 156.7 1010.6 156.7 1011.8 156.7 1013.0 156.7 1014.2 156.7 1015.4 156.8 1016.6 156.8 1017.8 156.8 1019.0 156.8 1020.2 156.8 1021.3 156.8 1022.5 156.8 1023.7 156.8 1024.9 156.9 1026.1 156.9 1027.3 156.9 1028.5 156.9 1029.7 156.9 1030.9 156.9 1032.1 156.9 1033.3 156.9 1034.5 157.0 1035.7 157.0 1036.9 157.0 1038.1 157.0 1039.3 157.0 1040.5 157.0 1041.7 157.0 1042.9 157.0 1044.1 157.1 1045.3 157.1 1046.5 157.1 1047.7 157.1 1048.9 157.1 1050.1 157.1 1051.3 157.1 1052.5 157.2 1053.7 157.2 1054.9 157.2 1056.0 157.2 1057.2 157.2 1058.4 157.2 1059.6 157.2 1060.8 157.3 1062.0 157.3 1063.2 157.3 1064.4 157.3 1065.6 157.3 1066.8 157.3 1068.0 157.3 1069.2 157.4 1070.4 157.4 1071.6 157.4 1072.8 157.4 1074.0 157.4 1075.2 157.4 1076.4 157.5 1077.6 157.5 1078.8 157.5 1080.0 157.5 1081.2 157.5 1082.4 157.5 1083.6 157.6 1084.8 157.6 1086.0 157.6 1087.2 157.6 1088.4 157.6 1089.6 157.6 1090.8 157.7 1092.0 157.7 1093.2 157.7 1094.4 157.7 1095.6 157.7 1096.8 157.7 1098.0 157.8 1099.1 157.8 1100.3 157.8 1101.5 157.8 1102.7 157.8 1103.9 157.8 1105.1 157.9 1106.3 157.9 1107.5 157.9 1108.7 157.9 1109.9 157.9 1111.1 158.0 1112.3 158.0 1113.5 158.0 1114.7 158.0 1115.9 158.0 1117.1 158.1 1118.3 158.1 1119.5 158.1 1120.7 158.1 1121.9 158.1" fill="none" stroke="#1e1e1e" stroke-width="1.25" stroke-linejoin="round"/>
<path d="M701.6 15.4 701.6 16.6 701.6 17.8 701.6 19.0 701.6 20.2 701.6 21.4 701.6 22.6 701.6 23.8 701.6 25.0 701.6 26.2 701.6 27.4 701.6 28.6 701.6 29.8 701.6 30.9 701.6 32.1 701.6 33.3 701.6 34.5 701.6 35.7 701.6 36.9 701.6 38.1 701.7 39.3 701.7 40.5 701.7 41.7 701.7 42.9 701.7 44.1 701.7 45.3 701.7 46.5 701.7 47.7 701.7 48.9 701.7 50.1 701.7 51.3 701.8 52.5 701.8 53.7 701.8 54.9 701.8 56.1 701.8 57.3 701.8 58.5 701.8 59.7 701.9 60.9 701.9 62.1 701.9 63.3 701.9 64.5 701.9 65.7 702.0 66.9 702.0 68.1 702.0 69.3 702.0 70.5 702.1 71.7 702.1 72.9 702.1 74.1 702.1 75.3 702.2 76.5 702.2 77.7 702.2 78.9 702.3 80.1 702.3 81.3 702.3 82.5 702.4 83.7 702.4 84.9 702.4 86.1 702.5 87.3 702.5 88.5 702.5 89.7 702.6 90.9 702.6 92.1 702.7 93.3 702.7 94.5 702.8 95.7 702.8 96.9 702.9 98.1 702.9 99.3 703.0 100.5 703.0 101.7 703.1 102.9 703.1 104.1 703.2 105.3 703.2 106.5 703.3 107.7 703.3 108.9 703.4 110.1 703.4 111.3 703.5 112.5 703.6 113.7 703.6 114.9 703.7 116.1 703.8 117.3 703.8 118.5 703.9 119.7 704.0 120.9 704.0 122.1 704.1 123.3 704.2 124.5 704.3 125.7 704.3 126.9 704.4 128.1 704.5 129.3 704.6 130.5 704.7 131.7 704.8 132.9 704.8 134.1 704.9 135.3 705.0 136.5 705.1 137.6 705.2 138.8 705.3 140.0 705.4 141.2 705.5 142.4 705.6 143.6 705.7 144.8 705.8 146.0 705.9 147.2 706.0 148.4 706.1 149.5 706.2 150.7 706.3 151.9 706.4 153.1 706.5 154.3 706.6 155.5 706.8 156.7 706.9 157.8 707.0 159.0 707.1 160.2 707.2 161.4 707.4 162.6 707.5 163.8 707.6 164.9 707.8 166.1 707.9 167.3 708.0 168.5 708.2 169.7 708.3 170.8 708.5 172.0 708.6 173.2 708.8 174.4 708.9 175.6 709.1 176.8 709.2 178.0 709.4 179.1 709.6 180.3 709.7 181.5 709.9 182.7 710.1 183.9 710.3 185.1 710.5 186.3 710.7 187.5 710.9 188.7 711.1 189.9 711.3 191.0 711.5 192.2 711.7 193.4 711.9 194.6 712.1 195.8 712.4 197.1 712.6 198.3 712.9 199.5 713.1 200.7 713.4 201.9 713.6 203.1 713.9 204.3 714.2 205.5 714.5 206.7 714.8 207.9 715.1 209.0 715.5 210.2 715.8 211.4 716.2 212.5 716.6 213.6 717.0 214.8 717.5 215.9 718.0 216.9 718.5 218.0 719.0 219.1 719.6 220.1 720.2 221.1 720.8 222.1 721.5 223.0 722.2 223.9 722.9 224.8 723.7 225.7 724.5 226.5 725.4 227.4 726.3 228.1 727.2 228.9 728.1 229.6 729.1 230.2 730.1 230.8 731.1 231.4 732.1 231.9 733.2 232.4 734.3 232.9 735.4 233.3 736.5 233.6 737.6 233.9 738.8 234.2 739.9 234.4 741.1 234.6 742.3 234.8 743.5 234.9 744.7 235.0 745.9 235.1 747.1 235.1 748.3 235.2 749.6 235.2 750.8 235.2 752.0 235.2 753.2 235.2 754.5 235.2 755.7 235.2 756.9 235.2 758.1 235.2 759.3 235.1 760.5 235.1 761.7 235.1 763.0 235.0 764.2 235.0 765.4 234.9 766.6 234.9 767.8 234.8 769.0 234.7 770.2 234.6 771.4 234.6 772.6 234.5 773.8 234.4 775.0 234.3 776.2 234.2 777.4 234.2 778.6 234.1 779.8 234.0 781.0 233.9 782.2 233.8 783.4 233.7 784.6 233.6 785.8 233.4 786.9 233.3 788.1 233.2 789.3 233.1 790.5 233.0 791.7 232.9 792.9 232.8 794.1 232.7 795.3 232.6 796.5 232.4 797.7 232.3 798.9 232.2 800.0 232.1 801.2 232.0 802.4 231.9 803.6 231.8 804.8 231.6 806.0 231.5 807.2 231.4 808.4 231.3 809.6 231.2 810.8 231.1 812.0 231.0 813.2 230.9 814.3 230.8 815.5 230.7 816.7 230.5 817.9 230.4 819.1 230.3 820.3 230.2 821.5 230.1 822.7 230.0 823.9 229.9 825.1 229.8 826.3 229.7 827.5 229.6 828.6 229.5 829.8 229.4 831.0 229.3 832.2 229.2 833.4 229.1 834.6 229.0 835.8 228.9 837.0 228.8 838.2 228.7 839.4 228.6 840.6 228.5 841.8 228.4 843.0 228.3 844.2 228.2 845.4 228.1 846.5 228.0 847.7 227.9 848.9 227.8 850.1 227.7 851.3 227.6 852.5 227.5 853.7 227.4 854.9 227.3 856.1 227.3 857.3 227.2 858.5 227.1 859.7 227.0 860.9 226.9 862.1 226.8 863.3 226.7 864.5 226.6 865.7 226.5 866.9 226.4 868.0 226.3 869.2 226.3 870.4 226.2 871.6 226.1 872.8 226.0 874.0 225.9 875.2 225.8 876.4 225.7 877.6 225.6 878.8 225.6 880.0 225.5 881.2 225.4 882.4 225.3 883.6 225.2 884.8 225.1 886.0 225.1 887.2 225.0 888.4 224.9 889.6 224.8 890.8 224.7 892.0 224.6 893.2 224.6 894.3 224.5 895.5 224.4 896.7 224.3 897.9 224.2 899.1 224.2 900.3 224.1 901.5 224.0 902.7 223.9 903.9 223.9 905.1 223.8 906.3 223.7 907.5 223.6 908.7 223.5 909.9 223.5 911.1 223.4 912.3 223.3 913.5 223.2 914.7 223.2 915.9 223.1 917.1 223.0 918.3 223.0 919.5 222.9 920.7 222.8 921.9 222.7 923.1 222.7 924.3 222.6 925.5 222.5 926.7 222.4 927.9 222.4 929.1 222.3 930.2 222.2 931.4 222.2 932.6 222.1 933.8 222.0 935.0 222.0 936.2 221.9 937.4 221.8 938.6 221.7 939.8 221.7 941.0 221.6 942.2 221.5 943.4 221.5 944.6 221.4 945.8 221.3 947.0 221.3 948.2 221.2 949.4 221.1 950.6 221.1 951.8 221.0 953.0 221.0 954.2 220.9 955.4 220.8 956.6 220.8 957.8 220.7 959.0 220.6 960.2 220.6 961.4 220.5 962.6 220.4 963.8 220.4 965.0 220.3 966.2 220.3 967.4 220.2 968.6 220.1 969.8 220.1 971.0 220.0 972.2 220.0 973.4 219.9 974.6 219.8 975.8 219.8 977.0 219.7 978.2 219.7 979.4 219.6 980.6 219.5 981.8 219.5 983.0 219.4 984.2 219.4 985.3 219.3 986.5 219.3 987.7 219.2 988.9 219.1 990.1 219.1 991.3 219.0 992.5 219.0 993.7 218.9 994.9 218.9 996.1 218.8 997.3 218.8 998.5 218.7 999.7 218.6 1000.9 218.6 1002.1 218.5 1003.3 218.5 1004.5 218.4 1005.7 218.4 1006.9 218.3 1008.1 218.3 1009.3 218.2 1010.5 218.2 1011.7 218.1 1012.9 218.1 1014.1 218.0 1015.3 218.0 1016.5 217.9 1017.7 217.9 1018.9 217.8 1020.1 217.8 1021.3 217.7 1022.5 217.7 1023.7 217.6 1024.9 217.6 1026.1 217.5 1027.3 217.5 1028.5 217.4 1029.7 217.4 1030.9 217.3 1032.1 217.3 1033.3 217.2 1034.5 217.2 1035.7 217.1 1036.9 217.1 1038.1 217.0 1039.3 217.0 1040.5 216.9 1041.7 216.9 1042.9 216.8 1044.1 216.8 1045.3 216.7 1046.5 216.7 1047.7 216.6 1048.9 216.6 1050.1 216.6 1051.3 216.5 1052.5 216.5 1053.6 216.4 1054.8 216.4 1056.0 216.3 1057.2 216.3 1058.4 216.2 1059.6 216.2 1060.8 216.1 1062.0 216.1 1063.2 216.1 1064.4 216.0 1065.6 216.0 1066.8 215.9 1068.0 215.9 1069.2 215.8 1070.4 215.8 1071.6 215.7 1072.8 215.7 1074.0 215.7 1075.2 215.6 1076.4 215.6 1077.6 215.5 1078.8 215.5 1080.0 215.4 1081.2 215.4 1082.4 215.4 1083.6 215.3 1084.8 215.3 1086.0 215.2 1087.2 215.2 1088.4 215.2 1089.6 215.1 1090.8 215.1 1092.0 215.0 1093.2 215.0 1094.4 215.0 1095.6 214.9 1096.8 214.9 1098.0 214.8 1099.2 214.8 1100.3 214.7 1101.5 214.7 1102.7 214.7 1103.9 214.6 1105.1 214.6 1106.3 214.5 1107.5 214.5 1108.7 214.5 1109.9 214.4 1111.1 214.4 1112.3 214.3 1113.5 214.3 1114.7 214.3 1115.9 214.2 1117.1 214.2 1118.3 214.2 1119.5 214.1 1120.7 214.1 1121.9 214.0" fill="none" stroke="#1e1e1e" stroke-width="1.25" stroke-dasharray="9.5 5.5" stroke-linejoin="round"/>
<path d="M136.8 602.9 138.0 602.6 139.0 602.0 140.0 601.4 140.9 600.7 141.8 599.8 142.5 598.9 143.3 597.9 144.0 596.9 144.7 595.9 145.4 594.9 146.0 593.9 146.7 592.8 147.4 591.8 148.1 590.8 148.7 589.8 149.4 588.8 150.1 587.8 150.8 586.8 151.4 585.8 152.1 584.8 152.8 583.9 153.5 582.9 154.1 581.9 154.8 580.9 155.5 580.0 156.2 579.0 156.9 578.1 157.5 577.1 158.2 576.1 158.9 575.2 159.6 574.2 160.3 573.3 161.0 572.3 161.7 571.4 162.4 570.4 163.1 569.5 163.8 568.5 164.5 567.6 165.2 566.6 166.0 565.7 166.7 564.7 167.4 563.8 168.1 562.9 168.9 561.9 169.6 561.0 170.4 560.0 171.1 559.1 171.9 558.1 172.6 557.2 173.4 556.3 174.2 555.3 175.0 554.4 175.8 553.5 176.5 552.6 177.3 551.7 178.2 550.7 179.0 549.8 179.8 548.9 180.6 548.0 181.4 547.2 182.3 546.3 183.1 545.4 184.0 544.5 184.8 543.7 185.7 542.8 186.5 542.0 187.4 541.1 188.3 540.3 189.2 539.5 190.1 538.7 191.0 537.9 191.9 537.1 192.8 536.4 193.8 535.6 194.7 534.8 195.7 534.1 196.6 533.4 197.6 532.7 198.5 532.0 199.5 531.3 200.5 530.6 201.5 530.0 202.5 529.3 203.5 528.7 204.6 528.1 205.6 527.5 206.6 526.9 207.7 526.4 208.8 525.8 209.8 525.3 210.9 524.8 212.0 524.3 213.1 523.8 214.2 523.4 215.3 522.9 216.4 522.5 217.6 522.1 218.7 521.7 219.8 521.3 221.0 521.0 222.2 520.7 223.3 520.3 224.5 520.1 225.6 519.8 226.8 519.5 228.0 519.3 229.2 519.1 230.4 518.9 231.5 518.7 232.7 518.6 233.9 518.4 235.1 518.3 236.3 518.2 237.5 518.1 238.7 518.1 239.9 518.0 241.1 518.0 242.3 518.0 243.4 518.0 244.6 518.1 245.8 518.2 247.0 518.2 248.2 518.3 249.4 518.5 250.5 518.6 251.7 518.8 252.9 519.0 254.0 519.2 255.2 519.4 256.4 519.7 257.5 519.9 258.7 520.2 259.8 520.5 261.0 520.8 262.1 521.2 263.3 521.5 264.4 521.9 265.5 522.3 266.7 522.6 267.8 523.1 268.9 523.5 270.0 523.9 271.2 524.4 272.3 524.8 273.4 525.3 274.5 525.8 275.6 526.3 276.7 526.8 277.8 527.3 278.9 527.8 280.0 528.3 281.1 528.9 282.2 529.4 283.3 530.0 284.3 530.5 285.4 531.1 286.5 531.7 287.6 532.3 288.6 532.8 289.7 533.4 290.8 534.0 291.8 534.6 292.9 535.2 293.9 535.8 295.0 536.5 296.0 537.1 297.1 537.7 298.1 538.3 299.2 538.9 300.2 539.5 301.2 540.2 302.3 540.8 303.3 541.4 304.3 542.0 305.3 542.7 306.4 543.3 307.4 543.9 308.4 544.6 309.4 545.2 310.4 545.9 311.4 546.5 312.4 547.2 313.4 547.8 314.4 548.5 315.4 549.1 316.4 549.8 317.4 550.5 318.4 551.1 319.4 551.8 320.3 552.5 321.3 553.1 322.3 553.8 323.3 554.5 324.3 555.2 325.2 555.9 326.2 556.6 327.2 557.3 328.1 558.0 329.1 558.7 330.1 559.4 331.0 560.1 332.0 560.8 332.9 561.5 333.9 562.2 334.8 562.9 335.8 563.7 336.7 564.4 337.7 565.1 338.6 565.8 339.6 566.6 340.5 567.3 341.4 568.1 342.4 568.8 343.3 569.5 344.2 570.3 345.2 571.0 346.1 571.8 347.0 572.5 348.0 573.3 348.9 574.0 349.8 574.8 350.7 575.6 351.7 576.3 352.6 577.1 353.5 577.9 354.4 578.6 355.3 579.4 356.2 580.2 357.2 581.0 358.1 581.7 359.0 582.5 359.9 583.3 360.8 584.1 361.7 584.8 362.6 585.6 363.5 586.4 364.4 587.2 365.4 588.0 366.3 588.8 367.2 589.6 368.1 590.3 369.0 591.1 369.9 591.9 370.8 592.7 371.7 593.5 372.6 594.3 373.5 595.1 374.4 595.9 375.3 596.7 376.2 597.5 377.1 598.3 378.0 599.1 378.9 599.9 379.8 600.7 380.7 601.5 381.6 602.3 382.5 603.1 383.4 603.9 384.3 604.7 385.2 605.5 386.1 606.3 387.0 607.1 387.9 607.9 388.8 608.6 389.7 609.4 390.6 610.2 391.5 611.0 392.4 611.8 393.3 612.6 394.2 613.4 395.1 614.2 396.0 615.0 396.9 615.8 397.8 616.6 398.7 617.4 399.6 618.2 400.5 619.0 401.4 619.8 402.3 620.6 403.2 621.4 404.1 622.2 405.0 623.0 405.9 623.8 406.8 624.5 407.7 625.3 408.6 626.1 409.5 626.9 410.4 627.7 411.3 628.5 412.2 629.3 413.1 630.1 414.0 630.9 414.9 631.7 415.8 632.5 416.7 633.2 417.6 634.0 418.6 634.8 419.5 635.6 420.4 636.4 421.3 637.2 422.2 638.0 423.1 638.8 424.0 639.5 424.9 640.3 425.8 641.1 426.7 641.9 427.6 642.7 428.5 643.5 429.4 644.2 430.4 645.0 431.3 645.8 432.2 646.6 433.1 647.4 434.0 648.1 434.9 648.9 435.8 649.7 436.7 650.5 437.7 651.2 438.6 652.0 439.5 652.8 440.4 653.6 441.3 654.3 442.2 655.1 443.1 655.9 444.1 656.7 445.0 657.4 445.9 658.2 446.8 659.0 447.7 659.8 448.6 660.5 449.6 661.3 450.5 662.1 451.4 662.8 452.3 663.6 453.3 664.4 454.2 665.1 455.1 665.9 456.0 666.6 457.0 667.4 457.9 668.2 458.8 668.9 459.7 669.7 460.7 670.4 461.6 671.2 462.5 672.0 463.4 672.7 464.4 673.5 465.3 674.2 466.2 675.0 467.2 675.7 468.1 676.5 469.0 677.2 470.0 678.0 470.9 678.7 471.8 679.5 472.8 680.2 473.7 681.0 474.6 681.7 475.6 682.5 476.5 683.2 477.5 683.9 478.4 684.7 479.3 685.4 480.3 686.2 481.2 686.9 482.2 687.6 483.1 688.4 484.1 689.1 485.0 689.8 486.0 690.6 486.9 691.3 487.9 692.0 488.8 692.8 489.8 693.5 490.7 694.2 491.7 694.9 492.6 695.7 493.6 696.4 494.5 697.1 495.5 697.8 496.4 698.6 497.4 699.3 498.4 700.0 499.3 700.7 500.3 701.4 501.2 702.1 502.2 702.8 503.2 703.6 504.1 704.3 505.1 705.0 506.1 705.7 507.0 706.4 508.0 707.1 509.0 707.8 509.9 708.5 510.9 709.2 511.9 709.9 512.9 710.6 513.8 711.3 514.8 712.0 515.8 712.7 516.8 713.4 517.8 714.1 518.7 714.8 519.7 715.4 520.7 716.1 521.7 716.8 522.7 717.5 523.7 718.2 524.6 718.9 525.6 719.5 526.6 720.2 527.6 720.9 528.6 721.6 529.6 722.3 530.6 722.9 531.6 723.6 532.6 724.3 533.6 724.9 534.6 725.6 535.6 726.3 536.6 726.9 537.6 727.6 538.6 728.3 539.6 728.9 540.6 729.6 541.6 730.2 542.6 730.9 543.6 731.5 544.6 732.2 545.7 732.8 546.7 733.5 547.7 734.1 548.7 734.8 549.7 735.4 550.7 736.0 551.8 736.7 552.8 737.3 553.8 738.0 554.8 738.6 555.9 739.2 556.9 739.9 557.9 740.5" fill="none" stroke="#1e1e1e" stroke-width="1.25" stroke-linejoin="round"/>
<path d="M136.9 724.0 137.1 722.8 137.2 721.6 137.4 720.4 137.5 719.2 137.6 718.0 137.7 716.8 137.8 715.6 138.0 714.4 138.1 713.2 138.2 712.0 138.3 710.8 138.4 709.6 138.5 708.4 138.6 707.2 138.7 706.0 138.8 704.8 138.9 703.6 139.0 702.4 139.1 701.2 139.2 700.0 139.2 698.8 139.3 697.7 139.4 696.5 139.5 695.3 139.6 694.1 139.7 692.9 139.8 691.7 139.9 690.5 139.9 689.3 140.0 688.2 140.1 687.0 140.2 685.8 140.3 684.6 140.4 683.4 140.5 682.2 140.6 681.0 140.7 679.9 140.8 678.7 140.9 677.5 141.0 676.3 141.1 675.1 141.2 673.9 141.3 672.8 141.4 671.6 141.5 670.4 141.6 669.2 141.8 668.0 141.9 666.8 142.0 665.6 142.1 664.5 142.3 663.3 142.4 662.1 142.6 660.9 142.7 659.7 142.9 658.5 143.0 657.3 143.2 656.1 143.3 655.0 143.5 653.8 143.7 652.6 143.9 651.4 144.1 650.2 144.3 649.0 144.5 647.8 144.7 646.6 144.9 645.4 145.1 644.2 145.3 643.0 145.6 641.8 145.8 640.6 146.0 639.4 146.3 638.2 146.6 637.0 146.8 635.9 147.1 634.7 147.4 633.5 147.7 632.3 148.0 631.1 148.3 629.9 148.6 628.7 149.0 627.5 149.3 626.3 149.7 625.2 150.0 624.0 150.4 622.8 150.8 621.7 151.2 620.5 151.6 619.4 152.0 618.3 152.5 617.1 152.9 616.0 153.4 614.9 153.9 613.8 154.3 612.7 154.8 611.7 155.4 610.6 155.9 609.5 156.4 608.5 157.0 607.5 157.6 606.5 158.2 605.5 158.8 604.5 159.4 603.5 160.0 602.5 160.7 601.6 161.3 600.7 162.0 599.7 162.7 598.8 163.5 598.0 164.2 597.1 164.9 596.3 165.7 595.4 166.5 594.6 167.3 593.8 168.2 593.1 169.0 592.3 169.9 591.6 170.8 590.9 171.7 590.2 172.6 589.6 173.6 588.9 174.5 588.3 175.5 587.7 176.5 587.2 177.6 586.6 178.6 586.1 179.7 585.6 180.7 585.1 181.8 584.6 182.9 584.1 184.0 583.6 185.2 583.2 186.3 582.7 187.4 582.3 188.6 581.9 189.7 581.5 190.9 581.1 192.1 580.7 193.2 580.3 194.4 579.9 195.6 579.5 196.8 579.1 197.9 578.7 199.1 578.3 200.3 577.9 201.5 577.5 202.7 577.1 203.8 576.7 205.0 576.3 206.2 575.9 207.3 575.5 208.5 575.1 209.6 574.6 210.7 574.2 211.9 573.8 213.0 573.3 214.1 572.8 215.2 572.4 216.3 571.9 217.4 571.4 218.5 570.9 219.6 570.4 220.7 569.9 221.8 569.4 222.9 568.9 223.9 568.3 225.0 567.8 226.1 567.3 227.1 566.7 228.2 566.2 229.2 565.6 230.3 565.0 231.3 564.5 232.4 563.9 233.4 563.3 234.4 562.7 235.5 562.1 236.5 561.5 237.5 560.9 238.5 560.3 239.5 559.7 240.5 559.1 241.5 558.4 242.5 557.8 243.5 557.2 244.5 556.5 245.5 555.9 246.5 555.2 247.5 554.6 248.5 553.9 249.5 553.3 250.5 552.6 251.5 551.9 252.5 551.3 253.4 550.6 254.4 549.9 255.4 549.2 256.4 548.6 257.3 547.9 258.3 547.2 259.3 546.5 260.2 545.8 261.2 545.1 262.2 544.4 263.1 543.7 264.1 543.0 265.1 542.3 266.0 541.6 267.0 540.9 268.0 540.2 268.9 539.5 269.9 538.8 270.8 538.1 271.8 537.4 272.8 536.6 273.7 535.9 274.7 535.2 275.7 534.5 276.6 533.8 277.6 533.1 278.6 532.4 279.5 531.7 280.5 531.0 281.5 530.3 282.4 529.6 283.4 528.9 284.4 528.2 285.3 527.5 286.3 526.8 287.3 526.1 288.3 525.4 289.2 524.7 290.2 524.0 291.2 523.3 292.2 522.6 293.2 521.9 294.1 521.2 295.1 520.5 296.1 519.8 297.1 519.1 298.1 518.5 299.1 517.8 300.1 517.1 301.1 516.4 302.0 515.7 303.0 515.1 304.0 514.4 305.0 513.7 306.0 513.0 307.0 512.4 308.0 511.7 309.0 511.0 310.0 510.4 311.0 509.7 312.0 509.0 313.0 508.4 314.0 507.7 315.1 507.1 316.1 506.4 317.1 505.8 318.1 505.1 319.1 504.5 320.1 503.8 321.1 503.2 322.1 502.5 323.2 501.9 324.2 501.2 325.2 500.6 326.2 500.0 327.2 499.3 328.3 498.7 329.3 498.1 330.3 497.4 331.3 496.8 332.4 496.2 333.4 495.6 334.4 494.9 335.4 494.3 336.5 493.7 337.5 493.1 338.5 492.5 339.6 491.9 340.6 491.3 341.7 490.6 342.7 490.0 343.7 489.4 344.8 488.8 345.8 488.2 346.9 487.6 347.9 487.1 349.0 486.5 350.0 485.9 351.1 485.3 352.1 484.7 353.1 484.1 354.2 483.5 355.3 483.0 356.3 482.4 357.4 481.8 358.4 481.2 359.5 480.7 360.5 480.1 361.6 479.5 362.7 479.0 363.7 478.4 364.8 477.9 365.8 477.3 366.9 476.8 368.0 476.2 369.0 475.7 370.1 475.1 371.2 474.6 372.2 474.0 373.3 473.5 374.4 473.0 375.5 472.4 376.5 471.9 377.6 471.4 378.7 470.9 379.8 470.3 380.9 469.8 381.9 469.3 383.0 468.8 384.1 468.3 385.2 467.8 386.3 467.3 387.4 466.8 388.4 466.3 389.5 465.8 390.6 465.3 391.7 464.8 392.8 464.3 393.9 463.8 395.0 463.3 396.1 462.9 397.2 462.4 398.3 461.9 399.4 461.5 400.5 461.0 401.6 460.5 402.7 460.1 403.8 459.6 404.9 459.1 406.0 458.7 407.1 458.2 408.2 457.8 409.3 457.4 410.4 456.9 411.5 456.5 412.6 456.0 413.7 455.6 414.9 455.2 416.0 454.8 417.1 454.3 418.2 453.9 419.3 453.5 420.4 453.1 421.6 452.7 422.7 452.3 423.8 451.9 424.9 451.5 426.0 451.1 427.2 450.7 428.3 450.3 429.4 449.9 430.6 449.5 431.7 449.2 432.8 448.8 433.9 448.4 435.1 448.1 436.2 447.7 437.3 447.3 438.5 447.0 439.6 446.6 440.8 446.3 441.9 445.9 443.0 445.6 444.2 445.2 445.3 444.9 446.5 444.6 447.6 444.2 448.7 443.9 449.9 443.6 451.0 443.3 452.2 442.9 453.3 442.6 454.5 442.3 455.6 442.0 456.8 441.7 457.9 441.4 459.1 441.1 460.3 440.8 461.4 440.6 462.6 440.3 463.7 440.0 464.9 439.7 466.0 439.5 467.2 439.2 468.4 438.9 469.5 438.7 470.7 438.4 471.9 438.2 473.0 437.9 474.2 437.7 475.4 437.4 476.5 437.2 477.7 437.0 478.9 436.7 480.1 436.5 481.2 436.3 482.4 436.1 483.6 435.9 484.8 435.7 485.9 435.5 487.1 435.3 488.3 435.1 489.5 434.9 490.7 434.7 491.8 434.5 493.0 434.3 494.2 434.1 495.4 434.0 496.6 433.8 497.8 433.7 499.0 433.5 500.1 433.3 501.3 433.2 502.5 433.0 503.7 432.9 504.9 432.8 506.1 432.6 507.3 432.5 508.5 432.4 509.7 432.3 510.9 432.2 512.1 432.0 513.3 431.9 514.5 431.8 515.7 431.7 516.9 431.7 518.1 431.6 519.3 431.5 520.5 431.4 521.7 431.3 522.9 431.3 524.2 431.2 525.4 431.1 526.6 431.1 527.8 431.0 529.0 431.0 530.2 430.9 531.4 430.9 532.7 430.9 533.9 430.8 535.1 430.8 536.3 430.8 537.5 430.8 538.8 430.8 540.0 430.8 541.2 430.8 542.4 430.8 543.7 430.8 544.9 430.8 546.1 430.8 547.3 430.8 548.6 430.9 549.8 430.9 551.0 431.0 552.3 431.0 553.5 431.0 554.7 431.1 556.0 431.2 557.2 431.2 558.4 431.3" fill="none" stroke="#1e1e1e" stroke-width="1.25" stroke-dasharray="9.5 5.5" stroke-linejoin="round"/>
<path d="M700.6 550.0 701.6 549.3 702.7 548.6 703.7 548.0 704.8 547.4 705.8 546.9 706.9 546.4 708.0 545.9 709.1 545.4 710.2 545.0 711.3 544.7 712.5 544.3 713.6 544.0 714.8 543.7 715.9 543.4 717.1 543.2 718.2 543.0 719.4 542.8 720.6 542.6 721.7 542.4 722.9 542.3 724.1 542.1 725.3 542.0 726.4 541.9 727.6 541.8 728.8 541.7 730.0 541.6 731.2 541.6 732.4 541.5 733.6 541.5 734.8 541.5 736.0 541.5 737.2 541.5 738.3 541.5 739.5 541.5 740.7 541.5 741.9 541.5 743.1 541.5 744.3 541.5 745.5 541.6 746.8 541.6 748.0 541.6 749.2 541.7 750.4 541.7 751.6 541.7 752.8 541.8 754.0 541.8 755.2 541.9 756.4 541.9 757.6 541.9 758.8 542.0 760.0 542.0 761.2 542.0 762.4 542.1 763.6 542.1 764.8 542.1 766.0 542.2 767.2 542.2 768.4 542.2 769.6 542.3 770.8 542.3 772.0 542.3 773.2 542.4 774.4 542.4 775.6 542.4 776.8 542.5 778.0 542.5 779.2 542.5 780.4 542.5 781.6 542.6 782.8 542.6 784.0 542.6 785.2 542.7 786.4 542.7 787.6 542.7 788.8 542.7 790.0 542.8 791.2 542.8 792.4 542.8 793.6 542.8 794.8 542.9 796.0 542.9 797.2 542.9 798.4 542.9 799.6 543.0 800.8 543.0 802.0 543.0 803.2 543.0 804.4 543.0 805.6 543.1 806.8 543.1 808.0 543.1 809.2 543.1 810.4 543.1 811.6 543.2 812.8 543.2 814.0 543.2 815.2 543.2 816.4 543.2 817.6 543.3 818.8 543.3 820.0 543.3 821.2 543.3 822.4 543.3 823.6 543.3 824.8 543.4 826.0 543.4 827.2 543.4 828.4 543.4 829.6 543.4 830.8 543.4 832.0 543.5 833.2 543.5 834.4 543.5 835.6 543.5 836.8 543.5 838.0 543.5 839.2 543.5 840.4 543.6 841.6 543.6 842.8 543.6 844.0 543.6 845.2 543.6 846.4 543.6 847.6 543.6 848.8 543.6 850.0 543.6 851.2 543.7 852.4 543.7 853.6 543.7 854.8 543.7 856.0 543.7 857.2 543.7 858.4 543.7 859.6 543.7 860.8 543.7 861.9 543.7 863.1 543.7 864.3 543.8 865.5 543.8 866.7 543.8 867.9 543.8 869.1 543.8 870.3 543.8 871.5 543.8 872.7 543.8 873.9 543.8 875.1 543.8 876.3 543.8 877.5 543.8 878.7 543.8 879.9 543.8 881.1 543.8 882.3 543.8 883.5 543.9 884.7 543.9 885.9 543.9 887.1 543.9 888.3 543.9 889.5 543.9 890.7 543.9 891.9 543.9 893.1 543.9 894.3 543.9 895.5 543.9 896.7 543.9 897.9 543.9 899.1 543.9 900.3 543.9 901.5 543.9 902.7 543.9 903.9 543.9 905.1 543.9 906.2 543.9 907.4 543.9 908.6 543.9 909.8 543.9 911.0 543.9 912.2 543.9 913.4 543.9 914.6 543.9 915.8 543.9 917.0 543.9 918.2 543.9 919.4 543.9 920.6 543.9 921.8 543.9 923.0 543.9 924.2 543.9 925.4 543.9 926.6 543.9 927.8 543.9 929.0 543.9 930.2 543.9 931.4 543.9 932.6 543.9 933.8 543.9 935.0 543.9 936.2 543.9 937.4 543.9 938.6 543.9 939.8 543.9 941.0 543.9 942.2 543.9 943.3 543.9 944.5 543.9 945.7 543.9 946.9 543.9 948.1 543.9 949.3 543.9 950.5 543.9 951.7 543.9 952.9 543.9 954.1 543.9 955.3 543.9 956.5 543.9 957.7 543.9 958.9 543.9 960.1 543.9 961.3 543.9 962.5 543.9 963.7 543.9 964.9 543.9 966.1 543.9 967.3 543.9 968.5 543.9 969.7 543.9 970.9 543.9 972.1 543.9 973.3 543.9 974.5 543.9 975.7 543.9 976.9 543.8 978.1 543.8 979.3 543.8 980.4 543.8 981.6 543.8 982.8 543.8 984.0 543.8 985.2 543.8 986.4 543.8 987.6 543.8 988.8 543.8 990.0 543.8 991.2 543.8 992.4 543.8 993.6 543.8 994.8 543.8 996.0 543.8 997.2 543.8 998.4 543.8 999.6 543.8 1000.8 543.8 1002.0 543.8 1003.2 543.8 1004.4 543.8 1005.6 543.8 1006.8 543.8 1008.0 543.8 1009.2 543.8 1010.4 543.8 1011.6 543.8 1012.8 543.8 1014.0 543.8 1015.2 543.8 1016.4 543.8 1017.6 543.8 1018.8 543.8 1020.0 543.8 1021.2 543.8 1022.4 543.8 1023.6 543.8 1024.7 543.8 1025.9 543.8 1027.1 543.8 1028.3 543.8 1029.5 543.8 1030.7 543.8 1031.9 543.8 1033.1 543.8 1034.3 543.8 1035.5 543.8 1036.7 543.8 1037.9 543.8 1039.1 543.8 1040.3 543.8 1041.5 543.8 1042.7 543.8 1043.9 543.8 1045.1 543.8 1046.3 543.8 1047.5 543.8 1048.7 543.8 1049.9 543.8 1051.1 543.8 1052.3 543.8 1053.5 543.8 1054.7 543.8 1055.9 543.8 1057.1 543.8 1058.3 543.8 1059.5 543.8 1060.7 543.8 1061.9 543.8 1063.1 543.8 1064.3 543.8 1065.5 543.8 1066.7 543.8 1067.9 543.8 1069.1 543.8 1070.3 543.8 1071.5 543.8 1072.7 543.8 1073.9 543.8 1075.1 543.9 1076.3 543.9 1077.5 543.9 1078.7 543.9 1079.9 543.9 1081.1 543.9 1082.3 543.9 1083.5 543.9 1084.7 543.9 1085.9 543.9 1087.1 543.9 1088.3 543.9 1089.5 543.9 1090.7 543.9 1091.9 543.9 1093.1 543.9 1094.3 544.0 1095.5 544.0 1096.7 544.0 1097.9 544.0 1099.1 544.0 1100.3 544.0 1101.5 544.0 1102.7 544.0 1103.9 544.0 1105.1 544.0 1106.3 544.1 1107.5 544.1 1108.7 544.1 1109.9 544.1 1111.1 544.1 1112.3 544.1 1113.5 544.1 1114.7 544.1 1115.9 544.1 1117.1 544.2 1118.3 544.2 1119.5 544.2 1120.7 544.2 1121.9 544.2" fill="none" stroke="#1e1e1e" stroke-width="1.25" stroke-linejoin="round"/>
<path d="M701.1 630.8 702.3 630.9 703.5 630.9 704.6 630.9 705.8 630.9 707.0 630.9 708.2 630.8 709.3 630.7 710.5 630.6 711.7 630.5 712.8 630.3 714.0 630.1 715.2 630.0 716.4 629.8 717.5 629.5 718.7 629.3 719.9 629.1 721.0 628.8 722.2 628.6 723.4 628.3 724.5 628.1 725.7 627.8 726.9 627.5 728.0 627.3 729.2 627.0 730.4 626.8 731.5 626.5 732.7 626.2 733.9 626.0 735.1 625.7 736.2 625.4 737.4 625.2 738.6 624.9 739.7 624.6 740.9 624.4 742.1 624.1 743.3 623.8 744.4 623.6 745.6 623.3 746.8 623.1 747.9 622.8 749.1 622.6 750.3 622.4 751.5 622.1 752.6 621.9 753.8 621.7 755.0 621.4 756.2 621.2 757.3 621.0 758.5 620.8 759.7 620.6 760.9 620.4 762.1 620.2 763.2 620.0 764.4 619.8 765.6 619.6 766.8 619.4 768.0 619.2 769.2 619.0 770.3 618.9 771.5 618.7 772.7 618.5 773.9 618.3 775.1 618.2 776.3 618.0 777.5 617.9 778.6 617.7 779.8 617.6 781.0 617.4 782.2 617.3 783.4 617.1 784.6 617.0 785.8 616.9 787.0 616.7 788.1 616.6 789.3 616.5 790.5 616.4 791.7 616.2 792.9 616.1 794.1 616.0 795.3 615.9 796.5 615.8 797.7 615.7 798.9 615.6 800.0 615.5 801.2 615.4 802.4 615.3 803.6 615.2 804.8 615.1 806.0 615.0 807.2 614.9 808.4 614.8 809.6 614.7 810.8 614.6 812.0 614.5 813.2 614.4 814.4 614.4 815.6 614.3 816.8 614.2 818.0 614.1 819.1 614.0 820.3 614.0 821.5 613.9 822.7 613.8 823.9 613.7 825.1 613.7 826.3 613.6 827.5 613.5 828.7 613.4 829.9 613.4 831.1 613.3 832.3 613.2 833.5 613.2 834.7 613.1 835.9 613.0 837.1 613.0 838.3 612.9 839.5 612.9 840.7 612.8 841.9 612.7 843.0 612.7 844.2 612.6 845.4 612.6 846.6 612.5 847.8 612.4 849.0 612.4 850.2 612.3 851.4 612.3 852.6 612.2 853.8 612.2 855.0 612.1 856.2 612.1 857.4 612.0 858.6 612.0 859.8 611.9 861.0 611.9 862.2 611.8 863.4 611.8 864.6 611.7 865.8 611.7 867.0 611.6 868.2 611.6 869.4 611.6 870.5 611.5 871.7 611.5 872.9 611.4 874.1 611.4 875.3 611.3 876.5 611.3 877.7 611.3 878.9 611.2 880.1 611.2 881.3 611.2 882.5 611.1 883.7 611.1 884.9 611.1 886.1 611.0 887.3 611.0 888.5 611.0 889.7 610.9 890.9 610.9 892.1 610.9 893.3 610.8 894.5 610.8 895.7 610.8 896.9 610.7 898.1 610.7 899.3 610.7 900.5 610.7 901.7 610.6 902.9 610.6 904.1 610.6 905.2 610.6 906.4 610.5 907.6 610.5 908.8 610.5 910.0 610.5 911.2 610.4 912.4 610.4 913.6 610.4 914.8 610.4 916.0 610.4 917.2 610.3 918.4 610.3 919.6 610.3 920.8 610.3 922.0 610.3 923.2 610.2 924.4 610.2 925.6 610.2 926.8 610.2 928.0 610.2 929.2 610.2 930.4 610.2 931.6 610.1 932.8 610.1 934.0 610.1 935.2 610.1 936.4 610.1 937.6 610.1 938.8 610.1 940.0 610.1 941.2 610.0 942.4 610.0 943.6 610.0 944.7 610.0 945.9 610.0 947.1 610.0 948.3 610.0 949.5 610.0 950.7 610.0 951.9 610.0 953.1 610.0 954.3 609.9 955.5 609.9 956.7 609.9 957.9 609.9 959.1 609.9 960.3 609.9 961.5 609.9 962.7 609.9 963.9 609.9 965.1 609.9 966.3 609.9 967.5 609.9 968.7 609.9 969.9 609.9 971.1 609.9 972.3 609.9 973.5 609.9 974.7 609.9 975.9 609.9 977.1 609.9 978.3 609.9 979.5 609.9 980.7 609.9 981.9 609.9 983.1 609.9 984.3 609.9 985.5 609.9 986.7 609.9 987.9 609.9 989.1 609.9 990.2 609.9 991.4 609.9 992.6 609.9 993.8 609.9 995.0 609.9 996.2 609.9 997.4 609.9 998.6 609.9 999.8 609.9 1001.0 609.9 1002.2 609.9 1003.4 609.9 1004.6 609.9 1005.8 609.9 1007.0 609.9 1008.2 609.9 1009.4 609.9 1010.6 609.9 1011.8 609.9 1013.0 609.9 1014.2 609.9 1015.4 609.9 1016.6 609.9 1017.8 609.9 1019.0 609.9 1020.2 609.9 1021.4 609.9 1022.6 609.9 1023.8 609.9 1025.0 609.9 1026.2 610.0 1027.4 610.0 1028.6 610.0 1029.8 610.0 1031.0 610.0 1032.2 610.0 1033.4 610.0 1034.6 610.0 1035.7 610.0 1036.9 610.0 1038.1 610.0 1039.3 610.0 1040.5 610.0 1041.7 610.0 1042.9 610.0 1044.1 610.0 1045.3 610.0 1046.5 610.0 1047.7 610.0 1048.9 610.0 1050.1 610.0 1051.3 610.0 1052.5 610.0 1053.7 610.0 1054.9 610.0 1056.1 610.0 1057.3 610.0 1058.5 610.0 1059.7 610.1 1060.9 610.1 1062.1 610.1 1063.3 610.1 1064.5 610.1 1065.7 610.1 1066.9 610.1 1068.1 610.1 1069.3 610.1 1070.5 610.1 1071.7 610.1 1072.9 610.1 1074.1 610.1 1075.2 610.1 1076.4 610.1 1077.6 610.1 1078.8 610.1 1080.0 610.1 1081.2 610.1 1082.4 610.1 1083.6 610.1 1084.8 610.1 1086.0 610.1 1087.2 610.1 1088.4 610.1 1089.6 610.1 1090.8 610.1 1092.0 610.1 1093.2 610.1 1094.4 610.1 1095.6 610.1 1096.8 610.0 1098.0 610.0 1099.2 610.0 1100.4 610.0 1101.6 610.0 1102.8 610.0 1104.0 610.0 1105.2 610.0 1106.4 610.0 1107.5 610.0 1108.7 610.0 1109.9 610.0 1111.1 610.0 1112.3 610.0 1113.5 610.0 1114.7 610.0 1115.9 609.9 1117.1 609.9 1118.3 609.9 1119.5 609.9 1120.7 609.9 1121.9 609.9" fill="none" stroke="#1e1e1e" stroke-width="1.25" stroke-dasharray="9.5 5.5" stroke-linejoin="round"/>
<g fill="none" stroke="#000" stroke-width="1.05"><circle cx="301.3" cy="98.9" r="2.65"/><circle cx="307.57" cy="113.4" r="2.65"/><circle cx="313.84" cy="108.7" r="2.65"/><circle cx="320.11" cy="125" r="2.65"/><circle cx="326.38" cy="136.9" r="2.65"/><circle cx="332.65" cy="118.8" r="2.65"/><circle cx="338.92" cy="120.6" r="2.65"/><circle cx="345.19" cy="116.8" r="2.65"/><circle cx="351.46" cy="113.4" r="2.65"/><circle cx="357.73" cy="113.1" r="2.65"/><circle cx="364" cy="110.2" r="2.65"/><circle cx="370.27" cy="109.3" r="2.65"/><circle cx="376.54" cy="109" r="2.65"/><circle cx="382.81" cy="108" r="2.65"/><circle cx="389.08" cy="106.8" r="2.65"/><circle cx="395.35" cy="105.5" r="2.65"/><circle cx="401.62" cy="104.9" r="2.65"/><circle cx="407.89" cy="102.9" r="2.65"/><circle cx="414.16" cy="104.4" r="2.65"/><circle cx="420.43" cy="100.1" r="2.65"/></g>
<g fill="none" stroke="#000" stroke-width="1.05"><circle cx="865.3" cy="135.1" r="2.65"/><circle cx="871.57" cy="134.2" r="2.65"/><circle cx="877.84" cy="139.4" r="2.65"/><circle cx="884.11" cy="214.6" r="2.65"/><circle cx="890.38" cy="222.5" r="2.65"/><circle cx="896.65" cy="221.6" r="2.65"/><circle cx="902.92" cy="219.7" r="2.65"/><circle cx="909.19" cy="218.3" r="2.65"/><circle cx="915.46" cy="217" r="2.65"/><circle cx="921.73" cy="216.6" r="2.65"/><circle cx="928" cy="216.4" r="2.65"/><circle cx="934.27" cy="216" r="2.65"/><circle cx="940.54" cy="215.9" r="2.65"/><circle cx="946.81" cy="215.5" r="2.65"/><circle cx="953.08" cy="215.3" r="2.65"/><circle cx="959.35" cy="215.1" r="2.65"/><circle cx="965.62" cy="214.6" r="2.65"/><circle cx="971.89" cy="214.4" r="2.65"/><circle cx="978.16" cy="214" r="2.65"/><circle cx="984.43" cy="214.8" r="2.65"/></g>
<g fill="none" stroke="#000" stroke-width="1.05"><circle cx="201.3" cy="498.9" r="2.65"/><circle cx="210.81" cy="499.1" r="2.65"/><circle cx="220.32" cy="505.3" r="2.65"/><circle cx="229.83" cy="541.4" r="2.65"/><circle cx="239.34" cy="518" r="2.65"/><circle cx="248.85" cy="517" r="2.65"/><circle cx="258.36" cy="521.3" r="2.65"/><circle cx="267.87" cy="522.5" r="2.65"/><circle cx="277.38" cy="526.4" r="2.65"/><circle cx="286.89" cy="531" r="2.65"/><circle cx="296.4" cy="535.1" r="2.65"/><circle cx="305.91" cy="540.6" r="2.65"/><circle cx="315.42" cy="546.5" r="2.65"/><circle cx="324.93" cy="552.2" r="2.65"/><circle cx="334.44" cy="559.3" r="2.65"/><circle cx="343.95" cy="566.5" r="2.65"/><circle cx="353.46" cy="573.9" r="2.65"/><circle cx="362.97" cy="581.2" r="2.65"/><circle cx="372.48" cy="583.4" r="2.65"/><circle cx="381.99" cy="579.2" r="2.65"/><circle cx="391.5" cy="553.1" r="2.65"/><circle cx="401.01" cy="514.7" r="2.65"/><circle cx="410.52" cy="482.5" r="2.65"/><circle cx="420.03" cy="465" r="2.65"/><circle cx="429.54" cy="456" r="2.65"/><circle cx="439.05" cy="449.3" r="2.65"/><circle cx="448.56" cy="444.6" r="2.65"/><circle cx="458.07" cy="441.2" r="2.65"/><circle cx="467.58" cy="439.3" r="2.65"/><circle cx="477.09" cy="437.9" r="2.65"/><circle cx="486.6" cy="437" r="2.65"/><circle cx="496.11" cy="436.9" r="2.65"/><circle cx="505.62" cy="436.6" r="2.65"/><circle cx="515.13" cy="435.4" r="2.65"/><circle cx="524.64" cy="436.4" r="2.65"/></g>
<g fill="none" stroke="#000" stroke-width="1.05"><circle cx="793.6" cy="526.9" r="2.65"/><circle cx="803.11" cy="540.2" r="2.65"/><circle cx="812.62" cy="542.8" r="2.65"/><circle cx="822.13" cy="542.8" r="2.65"/><circle cx="831.64" cy="543.1" r="2.65"/><circle cx="841.15" cy="543.5" r="2.65"/><circle cx="850.66" cy="543.5" r="2.65"/><circle cx="860.17" cy="543.9" r="2.65"/><circle cx="869.68" cy="543.9" r="2.65"/><circle cx="879.19" cy="543.9" r="2.65"/><circle cx="888.7" cy="543.9" r="2.65"/><circle cx="898.21" cy="543.9" r="2.65"/><circle cx="907.72" cy="544.2" r="2.65"/><circle cx="917.23" cy="544.8" r="2.65"/><circle cx="926.74" cy="545.3" r="2.65"/><circle cx="936.25" cy="546.6" r="2.65"/><circle cx="945.76" cy="547.9" r="2.65"/><circle cx="955.27" cy="568.2" r="2.65"/><circle cx="964.78" cy="584.4" r="2.65"/><circle cx="974.29" cy="598.1" r="2.65"/><circle cx="983.8" cy="609.6" r="2.65"/><circle cx="993.31" cy="609.9" r="2.65"/><circle cx="1002.82" cy="609.9" r="2.65"/><circle cx="1012.33" cy="609.9" r="2.65"/><circle cx="1021.84" cy="609.9" r="2.65"/><circle cx="1031.35" cy="609.9" r="2.65"/><circle cx="1040.86" cy="609.9" r="2.65"/><circle cx="1050.37" cy="609.9" r="2.65"/><circle cx="1059.88" cy="609.9" r="2.65"/><circle cx="1069.39" cy="609.9" r="2.65"/><circle cx="1078.9" cy="609.9" r="2.65"/><circle cx="1088.41" cy="609.9" r="2.65"/></g>
</svg></body></html>
